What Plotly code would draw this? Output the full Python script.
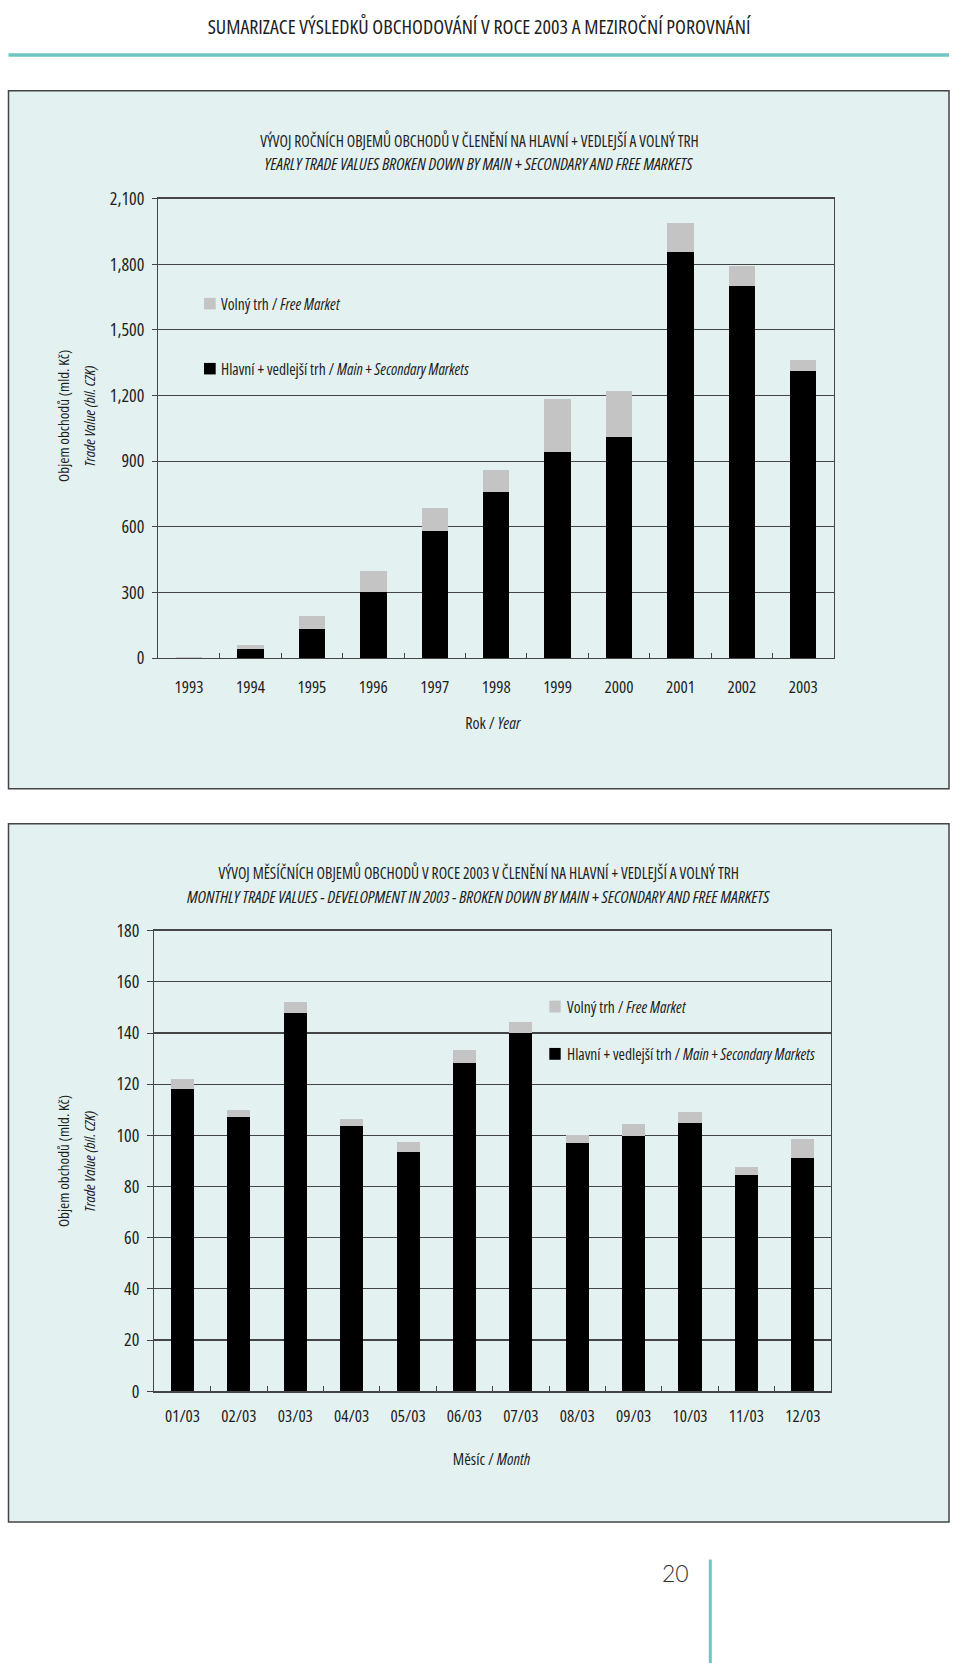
import plotly.graph_objects as go

# ---------------- data ----------------
years = ["1993", "1994", "1995", "1996", "1997", "1998", "1999", "2000", "2001", "2002", "2003"]
year_main = [2, 41, 134, 303, 582, 758, 942, 1009, 1855, 1700, 1313]
year_free = [3, 18, 59, 93, 102, 102, 243, 211, 134, 93, 49]

months = ["01/03", "02/03", "03/03", "04/03", "05/03", "06/03", "07/03", "08/03", "09/03", "10/03", "11/03", "12/03"]
month_main = [118.2, 107.3, 147.9, 103.7, 93.6, 128.3, 140.0, 97.2, 99.8, 105.0, 84.7, 91.3]
month_free = [3.7, 2.8, 4.4, 2.8, 3.7, 5.2, 4.2, 2.8, 4.5, 4.3, 3.0, 7.2]

year_ticks = [0, 300, 600, 900, 1200, 1500, 1800, 2100]
month_ticks = [0, 20, 40, 60, 80, 100, 120, 140, 160, 180]

W, H = 960, 1674
FONT = "Open Sans, DejaVu Sans Condensed, sans-serif"
BLACK = "#000000"
GREY = "#c4c4c4"
BG = "#e3f1f1"
GRID = "#454545"
TEAL = "#6fc6c0"
TXT = "#1e1e1e"


def fx(x):
    return x / W


def fy(y):
    return 1 - y / H


def f(size, color=TXT, family=FONT, weight=500):
    return dict(family=family, size=size, color=color, weight=weight)


fig = go.Figure()

fig.add_trace(go.Bar(x=years, y=year_main, marker=dict(color=BLACK, line=dict(width=0)),
                     width=0.43, xaxis="x", yaxis="y", showlegend=False, name="Main + Secondary Markets"))
fig.add_trace(go.Bar(x=years, y=year_free, marker=dict(color=GREY, line=dict(width=0)),
                     width=0.43, xaxis="x", yaxis="y", showlegend=False, name="Free Market"))
fig.add_trace(go.Bar(x=months, y=month_main, marker=dict(color=BLACK, line=dict(width=0)),
                     width=0.41, xaxis="x2", yaxis="y2", showlegend=False, name="Main + Secondary Markets"))
fig.add_trace(go.Bar(x=months, y=month_free, marker=dict(color=GREY, line=dict(width=0)),
                     width=0.41, xaxis="x2", yaxis="y2", showlegend=False, name="Free Market"))

axis_common = dict(showline=True, linecolor=GRID, linewidth=1.3, mirror=True)

fig.update_layout(
    width=W, height=H,
    margin=dict(l=0, r=0, t=0, b=0),
    paper_bgcolor="white",
    plot_bgcolor="rgba(0,0,0,0)",
    barmode="stack",
    bargap=0,
    hovermode=False,
    font=f(15),
    xaxis=dict(domain=[fx(158.3), fx(834)], anchor="y", type="category",
               ticks="inside", ticklen=5, tickcolor=GRID, tickson="boundaries",
               showgrid=False, ticklabelstandoff=13, tickfont=f(17, weight=400), **axis_common),
    yaxis=dict(domain=[fy(654.5), fy(188.3)], anchor="x", range=[0, 2100],
               tickvals=year_ticks, tickformat=",d", ticks="outside", ticklen=5, tickcolor=GRID,
               showgrid=True, gridcolor=GRID, gridwidth=1.2, zeroline=False,
               ticklabelstandoff=4, tickfont=f(18, weight=400), **axis_common),
    xaxis2=dict(domain=[fx(154.3), fx(831)], anchor="y2", type="category",
                ticks="inside", ticklen=5, tickcolor=GRID, tickson="boundaries",
                showgrid=False, ticklabelstandoff=9, tickfont=f(17, weight=400), **axis_common),
    yaxis2=dict(domain=[fy(1398.3), fy(931)], anchor="x2", range=[0, 180],
                tickvals=month_ticks, ticks="outside", ticklen=6, tickcolor=GRID,
                showgrid=True, gridcolor=GRID, gridwidth=1.2, zeroline=False,
                ticklabelstandoff=4, tickfont=f(18, weight=400), **axis_common),
)

shapes = [
    # header rule
    dict(type="line", xref="paper", yref="paper", x0=fx(8.5), x1=fx(949), y0=fy(42.7), y1=fy(42.7),
         line=dict(color=TEAL, width=3.5), layer="below"),
    # panel frames
    dict(type="rect", xref="paper", yref="paper", x0=fx(8.5), x1=fx(949), y0=fy(787), y1=fy(79),
         fillcolor=BG, line=dict(color="#444444", width=1.5), layer="below"),
    dict(type="rect", xref="paper", yref="paper", x0=fx(8.5), x1=fx(949), y0=fy(1531), y1=fy(822.5),
         fillcolor=BG, line=dict(color="#444444", width=1.5), layer="below"),
    # page-number rule
    dict(type="line", xref="paper", yref="paper", x0=fx(710.3), x1=fx(710.3), y0=fy(1569), y1=0,
         line=dict(color=TEAL, width=3), layer="below"),
    # legend swatches (top chart)
    dict(type="rect", xref="paper", yref="paper", x0=fx(204), x1=fx(215.7), y0=fy(300.7), y1=fy(289),
         fillcolor=GREY, line=dict(width=0)),
    dict(type="rect", xref="paper", yref="paper", x0=fx(204), x1=fx(215.7), y0=fy(366.7), y1=fy(355),
         fillcolor=BLACK, line=dict(width=0)),
    # legend swatches (bottom chart)
    dict(type="rect", xref="paper", yref="paper", x0=fx(549.3), x1=fx(560.7), y0=fy(1014), y1=fy(1002),
         fillcolor=GREY, line=dict(width=0)),
    dict(type="rect", xref="paper", yref="paper", x0=fx(549.3), x1=fx(560.7), y0=fy(1062), y1=fy(1050),
         fillcolor=BLACK, line=dict(width=0)),
]
fig.update_layout(shapes=shapes)


def ann(x, y, text, font, xanchor="center", angle=0):
    return dict(x=fx(x), y=fy(y), xref="paper", yref="paper", text=text, showarrow=False,
                xanchor=xanchor, yanchor="middle", textangle=angle, font=font,
                align="left" if xanchor == "left" else "center")


annotations = [
    ann(479, 14, "SUMARIZACE VÝSLEDKŮ OBCHODOVÁNÍ V ROCE 2003 A MEZIROČNÍ POROVNÁNÍ", f(20, weight=500)),
    # top chart
    ann(479, 130, "VÝVOJ ROČNÍCH OBJEMŮ OBCHODŮ V ČLENĚNÍ NA HLAVNÍ + VEDLEJŠÍ A VOLNÝ TRH", f(15.5, weight=500)),
    ann(479, 153, "<i>YEARLY TRADE VALUES BROKEN DOWN BY MAIN + SECONDARY AND FREE MARKETS</i>", f(16.8, weight=500)),
    ann(219.3, 295, "Volný trh / <i>Free Market</i>", f(15.5), xanchor="left"),
    ann(219.3, 361, "Hlavní + vedlejší trh / <i>Main + Secondary Markets</i>", f(15.5), xanchor="left"),
    ann(63, 409, "Objem obchodů (mld. Kč)", f(15), angle=-90),
    ann(89, 409, "<i>Trade Value (bil. CZK)</i>", f(15), angle=-90),
    ann(493, 720, "Rok / <i>Year</i>", f(16)),
    # bottom chart
    ann(478, 873, "VÝVOJ MĚSÍČNÍCH OBJEMŮ OBCHODŮ V ROCE 2003 V ČLENĚNÍ NA HLAVNÍ + VEDLEJŠÍ A VOLNÝ TRH", f(15.5, weight=500)),
    ann(478, 896, "<i>MONTHLY TRADE VALUES - DEVELOPMENT IN 2003 - BROKEN DOWN BY MAIN + SECONDARY AND FREE MARKETS</i>", f(16.8, weight=500)),
    ann(565.3, 1008, "Volný trh / <i>Free Market</i>", f(15.5), xanchor="left"),
    ann(565.3, 1056, "Hlavní + vedlejší trh / <i>Main + Secondary Markets</i>", f(15.5), xanchor="left"),
    ann(63, 1165, "Objem obchodů (mld. Kč)", f(15), angle=-90),
    ann(89, 1165, "<i>Trade Value (bil. CZK)</i>", f(15), angle=-90),
    ann(492, 1467, "Měsíc / <i>Month</i>", f(16)),
    # page number
    ann(675, 1583, "20", dict(family="Lato, Open Sans, sans-serif", size=23, color="#333333", weight=300)),
]
fig.update_layout(annotations=annotations)

post = """
var de=document.documentElement, b=document.body;
de.style.margin='0'; de.style.padding='0'; de.style.overflow='hidden';
b.style.margin='0'; b.style.padding='0'; b.style.overflow='hidden';
var gd=document.getElementById('{plot_id}');
var st=document.createElement('style');
st.textContent='svg text{font-stretch:75% !important;} .annotation-text-g text[data-unformatted="20"]{font-stretch:100% !important;}';
document.head.appendChild(st);
Plotly.relayout(gd,{});
"""
fig.write_html("out.html", post_script=post, config={"displayModeBar": False, "staticPlot": True})
